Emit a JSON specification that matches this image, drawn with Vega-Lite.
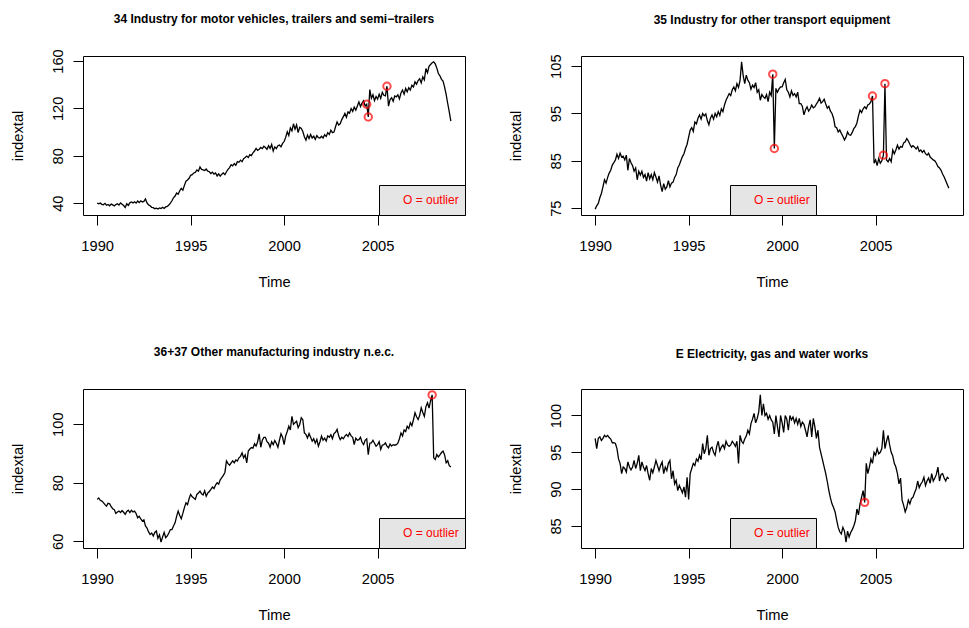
{
  "$schema": "https://vega.github.io/schema/vega-lite/v6.json",
  "padding": {"left": 9, "top": 12, "right": 4, "bottom": 4},
  "background": "white",
  "columns": 2,
  "spacing": {"row": 174, "column": 116},
  "bounds": "flush",
  "resolve": {"scale": {"color": "independent"}, "legend": {"color": "independent"}},
  "datasets": {
    "series": [
      {"t":1990,"a":40.0,"b":74.8,"c":74.3,"d":96.9},{"t":1990.083,"a":39.5,"b":75.5,"c":74.8,"d":95.5},{"t":1990.167,"a":40.2,"b":76.0,"c":74.0,"d":96.9},{"t":1990.25,"a":39.0,"b":77.2,"c":73.7,"d":97.1},{"t":1990.333,"a":38.6,"b":78.1,"c":73.2,"d":96.6},{"t":1990.417,"a":39.8,"b":79.5,"c":72.5,"d":96.9},{"t":1990.5,"a":38.2,"b":81.0,"c":72.0,"d":97.3},{"t":1990.583,"a":38.9,"b":80.3,"c":73.0,"d":97.1},{"t":1990.667,"a":37.8,"b":81.5,"c":72.8,"d":97.3},{"t":1990.75,"a":39.2,"b":82.4,"c":71.8,"d":97.0},{"t":1990.833,"a":38.5,"b":83.0,"c":71.1,"d":96.8},{"t":1990.917,"a":37.6,"b":84.1,"c":70.8,"d":96.3},
      {"t":1991,"a":38.8,"b":84.6,"c":69.5,"d":96.3},{"t":1991.083,"a":39.5,"b":85.2,"c":70.0,"d":96.2},{"t":1991.167,"a":38.4,"b":86.4,"c":70.3,"d":95.5},{"t":1991.25,"a":40.2,"b":85.5,"c":69.8,"d":94.1},{"t":1991.333,"a":39.1,"b":86.6,"c":70.5,"d":93.5},{"t":1991.417,"a":38.0,"b":85.8,"c":69.9,"d":92.1},{"t":1991.5,"a":36.4,"b":86.0,"c":69.2,"d":93.0},{"t":1991.583,"a":39.5,"b":85.2,"c":70.2,"d":92.8},{"t":1991.667,"a":38.1,"b":86.2,"c":70.6,"d":92.3},{"t":1991.75,"a":40.3,"b":83.0,"c":69.8,"d":93.7},{"t":1991.833,"a":41.0,"b":85.5,"c":70.6,"d":93.0},{"t":1991.917,"a":40.2,"b":84.6,"c":70.0,"d":92.6},
      {"t":1992,"a":41.2,"b":84.0,"c":70.3,"d":93.0},{"t":1992.083,"a":40.1,"b":82.8,"c":69.5,"d":93.9},{"t":1992.167,"a":41.8,"b":83.5,"c":68.0,"d":92.8},{"t":1992.25,"a":40.5,"b":81.0,"c":68.5,"d":93.5},{"t":1992.333,"a":42.0,"b":82.8,"c":67.6,"d":94.6},{"t":1992.417,"a":41.0,"b":82.0,"c":66.9,"d":92.5},{"t":1992.5,"a":41.5,"b":82.8,"c":67.3,"d":93.7},{"t":1992.583,"a":43.5,"b":81.5,"c":65.2,"d":93.0},{"t":1992.667,"a":40.2,"b":82.1,"c":64.5,"d":92.5},{"t":1992.75,"a":38.5,"b":80.7,"c":63.2,"d":93.2},{"t":1992.833,"a":37.8,"b":82.5,"c":62.3,"d":92.1},{"t":1992.917,"a":36.5,"b":81.2,"c":62.8,"d":91.2},
      {"t":1993,"a":36.2,"b":82.1,"c":61.8,"d":92.8},{"t":1993.083,"a":35.3,"b":81.0,"c":63.0,"d":92.2},{"t":1993.167,"a":35.8,"b":82.5,"c":63.5,"d":93.0},{"t":1993.25,"a":35.0,"b":81.6,"c":61.0,"d":93.9},{"t":1993.333,"a":36.0,"b":80.5,"c":62.2,"d":93.2},{"t":1993.417,"a":35.4,"b":81.8,"c":59.7,"d":92.5},{"t":1993.5,"a":36.5,"b":79.9,"c":61.5,"d":93.2},{"t":1993.583,"a":35.6,"b":78.5,"c":63.0,"d":93.7},{"t":1993.667,"a":36.8,"b":80.2,"c":61.2,"d":92.1},{"t":1993.75,"a":37.2,"b":79.0,"c":61.8,"d":93.0},{"t":1993.833,"a":38.5,"b":79.5,"c":62.8,"d":92.5},{"t":1993.917,"a":40.0,"b":80.8,"c":64.0,"d":93.5},
      {"t":1994,"a":42.0,"b":79.5,"c":64.0,"d":93.9},{"t":1994.083,"a":44.5,"b":80.3,"c":65.2,"d":91.4},{"t":1994.167,"a":46.0,"b":80.5,"c":66.3,"d":92.5},{"t":1994.25,"a":48.5,"b":81.5,"c":68.5,"d":90.7},{"t":1994.333,"a":47.5,"b":82.1,"c":70.3,"d":91.2},{"t":1994.417,"a":50.5,"b":83.5,"c":68.8,"d":89.8},{"t":1994.5,"a":52.5,"b":84.1,"c":67.7,"d":90.5},{"t":1994.583,"a":51.0,"b":85.0,"c":69.5,"d":90.0},{"t":1994.667,"a":55.0,"b":85.9,"c":71.5,"d":89.5},{"t":1994.75,"a":58.5,"b":86.5,"c":73.1,"d":90.3},{"t":1994.833,"a":59.5,"b":87.6,"c":72.5,"d":88.9},{"t":1994.917,"a":61.0,"b":88.5,"c":74.5,"d":91.6},
      {"t":1995,"a":63.5,"b":90.0,"c":76.0,"d":88.6},{"t":1995.083,"a":64.0,"b":91.5,"c":75.2,"d":92.1},{"t":1995.167,"a":65.5,"b":92.0,"c":74.8,"d":92.8},{"t":1995.25,"a":66.0,"b":91.2,"c":74.3,"d":93.5},{"t":1995.333,"a":68.0,"b":93.2,"c":76.0,"d":93.2},{"t":1995.417,"a":67.0,"b":92.8,"c":76.5,"d":94.1},{"t":1995.5,"a":70.5,"b":94.0,"c":77.1,"d":93.8},{"t":1995.583,"a":68.5,"b":94.7,"c":76.2,"d":94.6},{"t":1995.667,"a":68.0,"b":93.8,"c":75.8,"d":94.0},{"t":1995.75,"a":67.5,"b":95.0,"c":77.2,"d":96.2},{"t":1995.833,"a":68.8,"b":94.5,"c":75.4,"d":94.8},{"t":1995.917,"a":67.0,"b":94.9,"c":76.5,"d":95.5},
      {"t":1996,"a":66.5,"b":93.5,"c":77.0,"d":97.3},{"t":1996.083,"a":65.0,"b":92.6,"c":77.7,"d":94.6},{"t":1996.167,"a":66.2,"b":94.0,"c":78.5,"d":95.5},{"t":1996.25,"a":64.5,"b":94.7,"c":78.0,"d":95.7},{"t":1996.333,"a":65.5,"b":93.8,"c":79.2,"d":95.0},{"t":1996.417,"a":63.0,"b":95.0,"c":80.0,"d":94.6},{"t":1996.5,"a":64.8,"b":94.3,"c":79.5,"d":95.8},{"t":1996.583,"a":62.8,"b":95.4,"c":81.0,"d":96.5},{"t":1996.667,"a":64.5,"b":94.6,"c":81.7,"d":95.2},{"t":1996.75,"a":65.5,"b":96.0,"c":82.5,"d":95.7},{"t":1996.833,"a":64.0,"b":95.4,"c":83.5,"d":96.0},{"t":1996.917,"a":66.5,"b":96.8,"c":87.4,"d":95.5},
      {"t":1997,"a":68.5,"b":97.8,"c":86.5,"d":96.5},{"t":1997.083,"a":70.0,"b":98.5,"c":86.0,"d":96.0},{"t":1997.167,"a":72.5,"b":99.2,"c":86.8,"d":95.8},{"t":1997.25,"a":71.5,"b":98.8,"c":87.5,"d":96.0},{"t":1997.333,"a":73.5,"b":100.0,"c":86.8,"d":96.5},{"t":1997.417,"a":72.0,"b":100.6,"c":87.8,"d":96.2},{"t":1997.5,"a":75.0,"b":99.8,"c":87.4,"d":95.8},{"t":1997.583,"a":74.5,"b":101.3,"c":88.5,"d":96.5},{"t":1997.667,"a":76.3,"b":100.5,"c":89.0,"d":93.5},{"t":1997.75,"a":75.0,"b":102.0,"c":90.2,"d":97.3},{"t":1997.833,"a":77.5,"b":105.9,"c":88.5,"d":96.5},{"t":1997.917,"a":78.5,"b":103.0,"c":89.5,"d":96.2},
      {"t":1998,"a":79.7,"b":101.3,"c":86.8,"d":96.8},{"t":1998.083,"a":78.5,"b":103.1,"c":90.8,"d":97.2},{"t":1998.167,"a":81.0,"b":102.0,"c":91.5,"d":98.0},{"t":1998.25,"a":80.2,"b":101.5,"c":92.0,"d":97.5},{"t":1998.333,"a":82.5,"b":100.1,"c":91.8,"d":98.9},{"t":1998.417,"a":84.0,"b":101.0,"c":93.3,"d":99.5},{"t":1998.5,"a":86.2,"b":100.5,"c":92.5,"d":100.3},{"t":1998.583,"a":84.5,"b":101.5,"c":94.0,"d":99.0},{"t":1998.667,"a":85.5,"b":99.5,"c":96.7,"d":99.6},{"t":1998.75,"a":87.0,"b":100.0,"c":92.1,"d":100.5},{"t":1998.833,"a":86.0,"b":97.8,"c":94.5,"d":102.8},{"t":1998.917,"a":88.0,"b":99.0,"c":95.5,"d":100.0},
      {"t":1999,"a":87.0,"b":98.5,"c":95.5,"d":101.6},{"t":1999.083,"a":85.5,"b":98.2,"c":94.0,"d":100.0},{"t":1999.167,"a":88.5,"b":99.0,"c":93.5,"d":100.3},{"t":1999.25,"a":86.2,"b":97.5,"c":92.1,"d":99.5},{"t":1999.333,"a":89.5,"b":99.5,"c":94.0,"d":100.0},{"t":1999.417,"a":84.0,"b":98.8,"c":93.0,"d":99.4},{"t":1999.5,"a":87.5,"b":103.3,"c":94.4,"d":99.1},{"t":1999.583,"a":86.0,"b":87.6,"c":93.5,"d":97.5},{"t":1999.667,"a":88.5,"b":100.3,"c":92.1,"d":100.0},{"t":1999.75,"a":89.0,"b":99.5,"c":94.5,"d":98.5},{"t":1999.833,"a":87.5,"b":100.2,"c":96.7,"d":97.1},{"t":1999.917,"a":90.4,"b":100.6,"c":95.5,"d":100.0},
      {"t":2000,"a":92.0,"b":100.6,"c":93.0,"d":99.0},{"t":2000.083,"a":95.5,"b":101.5,"c":96.0,"d":97.7},{"t":2000.167,"a":100.2,"b":102.2,"c":97.5,"d":100.0},{"t":2000.25,"a":97.0,"b":100.0,"c":99.3,"d":99.5},{"t":2000.333,"a":103.5,"b":99.5,"c":98.0,"d":98.0},{"t":2000.417,"a":101.0,"b":98.5,"c":102.7,"d":100.0},{"t":2000.5,"a":107.0,"b":99.8,"c":99.9,"d":99.4},{"t":2000.583,"a":102.5,"b":98.8,"c":100.5,"d":99.8},{"t":2000.667,"a":106.0,"b":99.2,"c":101.0,"d":99.0},{"t":2000.75,"a":99.5,"b":98.5,"c":98.8,"d":99.6},{"t":2000.833,"a":104.0,"b":99.5,"c":99.9,"d":98.8},{"t":2000.917,"a":103.0,"b":97.1,"c":102.2,"d":99.6},
      {"t":2001,"a":100.5,"b":97.1,"c":101.5,"d":98.5},{"t":2001.083,"a":96.0,"b":96.5,"c":97.0,"d":99.1},{"t":2001.167,"a":93.2,"b":94.7,"c":96.5,"d":98.8},{"t":2001.25,"a":97.5,"b":95.8,"c":95.3,"d":98.0},{"t":2001.333,"a":94.5,"b":96.4,"c":96.8,"d":97.1},{"t":2001.417,"a":98.0,"b":95.5,"c":95.5,"d":98.5},{"t":2001.5,"a":95.0,"b":96.0,"c":94.2,"d":99.4},{"t":2001.583,"a":96.5,"b":96.8,"c":95.0,"d":97.1},{"t":2001.667,"a":93.8,"b":96.2,"c":93.5,"d":99.6},{"t":2001.75,"a":97.0,"b":96.4,"c":94.8,"d":98.5},{"t":2001.833,"a":95.2,"b":97.0,"c":92.5,"d":96.9},{"t":2001.917,"a":95.0,"b":97.5,"c":94.0,"d":98.0},
      {"t":2002,"a":96.5,"b":98.2,"c":95.9,"d":95.7},{"t":2002.083,"a":95.0,"b":97.2,"c":94.5,"d":94.8},{"t":2002.167,"a":97.8,"b":97.5,"c":95.2,"d":93.9},{"t":2002.25,"a":96.2,"b":98.0,"c":94.2,"d":93.0},{"t":2002.333,"a":99.5,"b":97.0,"c":96.0,"d":92.1},{"t":2002.417,"a":98.0,"b":96.1,"c":95.5,"d":91.0},{"t":2002.5,"a":101.6,"b":96.5,"c":96.4,"d":89.8},{"t":2002.583,"a":99.5,"b":95.5,"c":95.0,"d":88.8},{"t":2002.667,"a":100.0,"b":95.0,"c":96.8,"d":88.0},{"t":2002.75,"a":104.5,"b":94.0,"c":97.2,"d":87.5},{"t":2002.833,"a":108.6,"b":92.2,"c":98.2,"d":86.9},{"t":2002.917,"a":106.0,"b":92.0,"c":96.0,"d":85.8},
      {"t":2003,"a":107.0,"b":91.1,"c":94.7,"d":84.8},{"t":2003.083,"a":110.5,"b":91.5,"c":95.5,"d":84.2},{"t":2003.167,"a":113.0,"b":90.8,"c":95.0,"d":83.9},{"t":2003.25,"a":115.7,"b":90.2,"c":95.9,"d":84.8},{"t":2003.333,"a":112.5,"b":89.4,"c":96.5,"d":84.3},{"t":2003.417,"a":117.0,"b":90.0,"c":95.8,"d":82.8},{"t":2003.5,"a":116.0,"b":91.1,"c":97.0,"d":84.3},{"t":2003.583,"a":119.9,"b":90.5,"c":96.0,"d":83.5},{"t":2003.667,"a":117.5,"b":90.4,"c":95.5,"d":84.1},{"t":2003.75,"a":121.0,"b":91.0,"c":93.0,"d":84.5},{"t":2003.833,"a":118.5,"b":91.8,"c":95.2,"d":85.0},{"t":2003.917,"a":122.0,"b":92.2,"c":94.5,"d":85.7},
      {"t":2004,"a":125.5,"b":93.0,"c":94.7,"d":87.3},{"t":2004.083,"a":121.5,"b":94.5,"c":95.5,"d":86.5},{"t":2004.167,"a":124.5,"b":95.7,"c":93.8,"d":88.0},{"t":2004.25,"a":126.5,"b":95.2,"c":93.0,"d":88.9},{"t":2004.333,"a":122.0,"b":96.0,"c":94.5,"d":89.8},{"t":2004.417,"a":123.5,"b":96.4,"c":95.0,"d":88.2},{"t":2004.5,"a":112.7,"b":96.0,"c":89.6,"d":93.5},{"t":2004.583,"a":135.9,"b":96.8,"c":93.5,"d":92.1},{"t":2004.667,"a":128.5,"b":97.0,"c":93.6,"d":93.0},{"t":2004.75,"a":131.5,"b":97.5,"c":94.5,"d":94.1},{"t":2004.833,"a":126.5,"b":98.7,"c":93.5,"d":93.5},{"t":2004.917,"a":130.0,"b":84.5,"c":92.5,"d":95.0},
      {"t":2005,"a":127.8,"b":85.2,"c":93.0,"d":94.6},{"t":2005.083,"a":132.0,"b":84.0,"c":94.0,"d":95.5},{"t":2005.167,"a":128.5,"b":85.5,"c":91.4,"d":94.8},{"t":2005.25,"a":133.5,"b":84.5,"c":92.8,"d":95.0},{"t":2005.333,"a":131.0,"b":85.0,"c":93.0,"d":95.5},{"t":2005.417,"a":130.5,"b":86.2,"c":93.6,"d":98.0},{"t":2005.5,"a":138.7,"b":101.3,"c":92.5,"d":95.5},{"t":2005.583,"a":121.9,"b":85.2,"c":91.9,"d":96.5},{"t":2005.667,"a":127.5,"b":84.8,"c":93.2,"d":97.3},{"t":2005.75,"a":129.0,"b":85.5,"c":92.5,"d":96.0},{"t":2005.833,"a":126.0,"b":84.8,"c":93.0,"d":95.0},{"t":2005.917,"a":130.5,"b":87.3,"c":92.8,"d":94.5},
      {"t":2006,"a":129.7,"b":86.5,"c":93.0,"d":93.5},{"t":2006.083,"a":131.5,"b":87.3,"c":93.5,"d":93.0},{"t":2006.167,"a":128.0,"b":88.3,"c":95.0,"d":92.1},{"t":2006.25,"a":133.0,"b":87.5,"c":97.0,"d":90.7},{"t":2006.333,"a":135.5,"b":88.0,"c":96.0,"d":91.5},{"t":2006.417,"a":132.0,"b":87.9,"c":98.0,"d":88.5},{"t":2006.5,"a":136.8,"b":88.8,"c":97.5,"d":87.8},{"t":2006.583,"a":134.0,"b":89.0,"c":99.3,"d":86.9},{"t":2006.667,"a":137.5,"b":89.7,"c":98.5,"d":87.5},{"t":2006.75,"a":135.5,"b":89.2,"c":100.5,"d":88.5},{"t":2006.833,"a":139.5,"b":88.5,"c":99.5,"d":88.0},{"t":2006.917,"a":138.0,"b":87.9,"c":101.5,"d":88.7},
      {"t":2007,"a":142.4,"b":88.2,"c":103.9,"d":88.9},{"t":2007.083,"a":140.5,"b":87.9,"c":102.5,"d":89.5},{"t":2007.167,"a":143.5,"b":87.5,"c":101.6,"d":90.0},{"t":2007.25,"a":145.0,"b":88.0,"c":103.0,"d":91.1},{"t":2007.333,"a":141.5,"b":87.0,"c":105.6,"d":90.2},{"t":2007.417,"a":146.6,"b":87.3,"c":104.0,"d":90.7},{"t":2007.5,"a":144.0,"b":86.8,"c":102.7,"d":91.0},{"t":2007.583,"a":153.6,"b":87.2,"c":106.0,"d":91.6},{"t":2007.667,"a":150.0,"b":86.5,"c":107.3,"d":90.5},{"t":2007.75,"a":155.5,"b":86.2,"c":105.5,"d":91.1},{"t":2007.833,"a":157.0,"b":86.6,"c":108.0,"d":91.5},{"t":2007.917,"a":158.5,"b":85.8,"c":110.0,"d":90.8},
      {"t":2008,"a":159.2,"b":85.5,"c":88.5,"d":92.1},{"t":2008.083,"a":157.5,"b":85.2,"c":87.9,"d":91.1},{"t":2008.167,"a":154.0,"b":85.0,"c":89.6,"d":91.5},{"t":2008.25,"a":149.4,"b":84.5,"c":88.8,"d":92.0},{"t":2008.333,"a":147.5,"b":83.8,"c":89.5,"d":93.0},{"t":2008.417,"a":144.5,"b":83.5,"c":90.3,"d":91.1},{"t":2008.5,"a":143.0,"b":83.0,"c":90.8,"d":92.0},{"t":2008.583,"a":138.0,"b":82.2,"c":89.5,"d":92.1},{"t":2008.667,"a":131.5,"b":81.6,"c":86.8,"d":91.5},{"t":2008.75,"a":124.1,"b":80.8,"c":87.5,"d":91.1},{"t":2008.833,"a":117.0,"b":80.0,"c":85.8,"d":91.6},{"t":2008.917,"a":109.2,"b":79.2,"c":85.4,"d":91.4}
    ],
    "outliers": [
      {"p":"a","t":2004.417,"v":123.5},{"p":"a","t":2004.5,"v":112.7},{"p":"a","t":2005.5,"v":138.7},
      {"p":"b","t":1999.5,"v":103.3},{"p":"b","t":1999.583,"v":87.6},{"p":"b","t":2004.833,"v":98.7},{"p":"b","t":2005.417,"v":86.2},{"p":"b","t":2005.5,"v":101.3},
      {"p":"c","t":2007.917,"v":110.0},
      {"p":"d","t":2004.417,"v":88.2}
    ]
  },
  "config": {
    "font": "Liberation Sans",
    "view": {"stroke": "black", "strokeWidth": 1},
    "axis": {"grid": false, "domain": false, "tickColor": "black", "tickWidth": 1, "tickSize": 10, "labelColor": "black", "titleColor": "black", "labelFont": "Liberation Sans", "titleFont": "Liberation Sans", "labelFontSize": 14.7, "titleFontSize": 14.7, "titleFontWeight": "normal", "labelOverlap": false, "labelFlush": false},
    "axisX": {"labelPadding": 13, "labelBaseline": "top", "titlePadding": 22},
    "axisY": {"labelAngle": -90, "labelAlign": "center", "labelBaseline": "alphabetic", "labelPadding": 11, "titlePadding": 25},
    "title": {"font": "Liberation Sans", "fontSize": 12, "fontWeight": "bold", "color": "black", "anchor": "middle", "baseline": "alphabetic", "offset": 28},
    "legend": {"title": null, "padding": 6, "fillColor": "#e5e5e5", "strokeColor": "black", "cornerRadius": 0, "symbolSize": 324, "symbolOpacity": 0, "symbolStrokeWidth": 0, "symbolType": "circle", "labelFont": "Liberation Sans", "labelFontSize": 12, "labelColor": "#ff0000", "labelOffset": 0}
  },
  "concat": [
    {
      "width": 382, "height": 159,
      "title": {"text": "34 Industry for motor vehicles, trailers and semi−trailers", "offset": 23},
      "layer": [
        {
          "data": {"name": "series"},
          "mark": {"type": "line", "color": "black", "strokeWidth": 1.3},
          "encoding": {
            "x": {"field": "t", "type": "quantitative", "title": "Time", "scale": {"domain": [1989.243, 2009.674], "nice": false, "zero": false}, "axis": {"values": [1990, 1995, 2000, 2005], "format": "d"}},
            "y": {"field": "a", "type": "quantitative", "title": "indextal", "scale": {"domain": [30.0, 164.2], "nice": false, "zero": false}, "axis": {"values": [40, 60, 80, 100, 120, 140, 160], "labelExpr": "datum.value % 40 == 0 ? datum.label : ''"}}
          }
        },
        {
          "data": {"name": "outliers"},
          "transform": [{"filter": "datum.p == 'a'"}],
          "mark": {"type": "point", "shape": "circle", "filled": false, "size": 55, "strokeWidth": 2},
          "encoding": {
            "x": {"field": "t", "type": "quantitative", "title": "Time"},
            "y": {"field": "v", "type": "quantitative", "title": "indextal"},
            "color": {"datum": "O = outlier", "type": "nominal", "scale": {"range": ["#ff0000"]}, "legend": {"orient": "bottom-right", "offset": 0}}
          }
        }
      ]
    },
    {
      "width": 382, "height": 159,
      "title": {"text": "35 Industry for other transport equipment", "offset": 27},
      "layer": [
        {
          "data": {"name": "series"},
          "mark": {"type": "line", "color": "black", "strokeWidth": 1.3},
          "encoding": {
            "x": {"field": "t", "type": "quantitative", "title": "Time", "scale": {"domain": [1989.243, 2009.674], "nice": false, "zero": false}, "axis": {"values": [1990, 1995, 2000, 2005], "format": "d"}},
            "y": {"field": "b", "type": "quantitative", "title": "indextal", "scale": {"domain": [73.56, 107.14], "nice": false, "zero": false}, "axis": {"values": [75, 80, 85, 90, 95, 100, 105], "labelExpr": "(datum.value - 75) % 10 == 0 ? datum.label : ''"}}
          }
        },
        {
          "data": {"name": "outliers"},
          "transform": [{"filter": "datum.p == 'b'"}],
          "mark": {"type": "point", "shape": "circle", "filled": false, "size": 55, "strokeWidth": 2},
          "encoding": {
            "x": {"field": "t", "type": "quantitative", "title": "Time"},
            "y": {"field": "v", "type": "quantitative", "title": "indextal"},
            "color": {"datum": "O = outlier", "type": "nominal", "scale": {"range": ["#ff0000"]}, "legend": {"orient": "none", "legendX": 149, "legendY": 129}}
          }
        }
      ]
    },
    {
      "width": 382, "height": 159,
      "title": {"text": "36+37 Other manufacturing industry n.e.c.", "offset": 28},
      "layer": [
        {
          "data": {"name": "series"},
          "mark": {"type": "line", "color": "black", "strokeWidth": 1.3},
          "encoding": {
            "x": {"field": "t", "type": "quantitative", "title": "Time", "scale": {"domain": [1989.243, 2009.674], "nice": false, "zero": false}, "axis": {"values": [1990, 1995, 2000, 2005], "format": "d"}},
            "y": {"field": "c", "type": "quantitative", "title": "indextal", "scale": {"domain": [57.69, 112.01], "nice": false, "zero": false}, "axis": {"values": [60, 70, 80, 90, 100, 110], "labelExpr": "datum.value % 20 == 0 ? datum.label : ''"}}
          }
        },
        {
          "data": {"name": "outliers"},
          "transform": [{"filter": "datum.p == 'c'"}],
          "mark": {"type": "point", "shape": "circle", "filled": false, "size": 55, "strokeWidth": 2},
          "encoding": {
            "x": {"field": "t", "type": "quantitative", "title": "Time"},
            "y": {"field": "v", "type": "quantitative", "title": "indextal"},
            "color": {"datum": "O = outlier", "type": "nominal", "scale": {"range": ["#ff0000"]}, "legend": {"orient": "bottom-right", "offset": 0}}
          }
        }
      ]
    },
    {
      "width": 382, "height": 159,
      "title": {"text": "E Electricity, gas and water works", "offset": 28},
      "layer": [
        {
          "data": {"name": "series"},
          "mark": {"type": "line", "color": "black", "strokeWidth": 1.3},
          "encoding": {
            "x": {"field": "t", "type": "quantitative", "title": "Time", "scale": {"domain": [1989.243, 2009.674], "nice": false, "zero": false}, "axis": {"values": [1990, 1995, 2000, 2005], "format": "d"}},
            "y": {"field": "d", "type": "quantitative", "title": "indextal", "scale": {"domain": [82.0, 103.6], "nice": false, "zero": false}, "axis": {"values": [85, 90, 95, 100]}}
          }
        },
        {
          "data": {"name": "outliers"},
          "transform": [{"filter": "datum.p == 'd'"}],
          "mark": {"type": "point", "shape": "circle", "filled": false, "size": 55, "strokeWidth": 2},
          "encoding": {
            "x": {"field": "t", "type": "quantitative", "title": "Time"},
            "y": {"field": "v", "type": "quantitative", "title": "indextal"},
            "color": {"datum": "O = outlier", "type": "nominal", "scale": {"range": ["#ff0000"]}, "legend": {"orient": "none", "legendX": 149, "legendY": 129}}
          }
        }
      ]
    }
  ]
}
